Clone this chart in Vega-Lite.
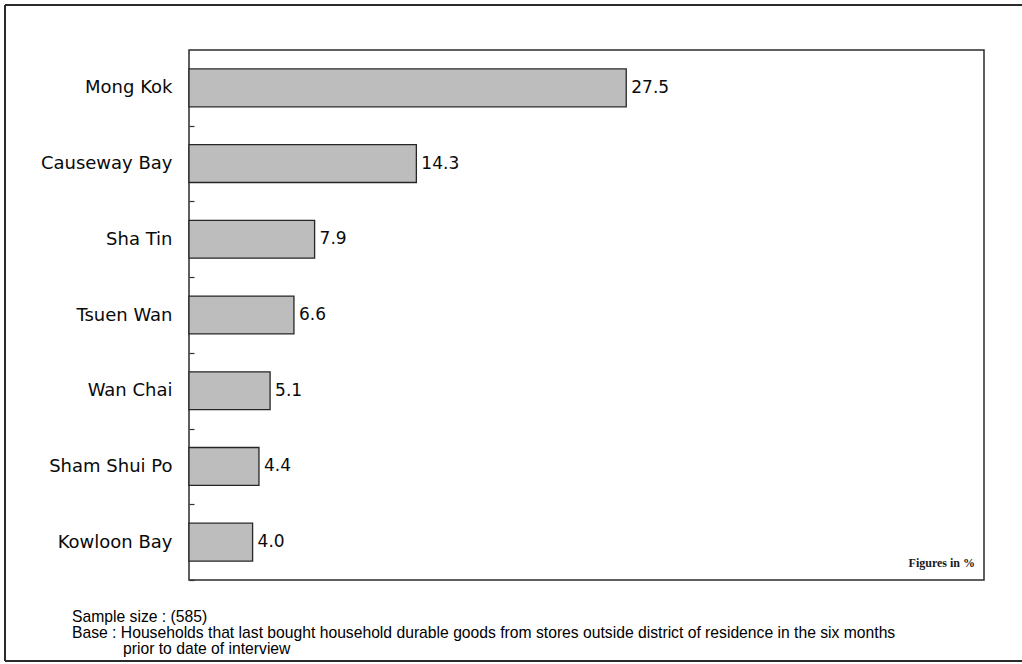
{
  "$schema": "https://vega.github.io/schema/vega-lite/v6.json",
  "width": 795,
  "height": 530,
  "autosize": {"type": "none"},
  "padding": {"left": 189, "top": 50, "right": 38, "bottom": 84},
  "background": "white",
  "config": {
    "view": {"stroke": "#2b2b2b", "strokeWidth": 1.5},
    "font": "DejaVu Sans"
  },
  "datasets": {
    "districts": [
      {"district": "Mong Kok", "pct": 27.5},
      {"district": "Causeway Bay", "pct": 14.3},
      {"district": "Sha Tin", "pct": 7.9},
      {"district": "Tsuen Wan", "pct": 6.6},
      {"district": "Wan Chai", "pct": 5.1},
      {"district": "Sham Shui Po", "pct": 4.4},
      {"district": "Kowloon Bay", "pct": 4.0}
    ],
    "single": [{"item": "note"}]
  },
  "data": {"name": "districts"},
  "encoding": {
    "y": {
      "field": "district",
      "type": "nominal",
      "sort": null,
      "scale": {"paddingInner": 0.5, "paddingOuter": 0.25},
      "axis": {
        "title": null,
        "domain": false,
        "grid": false,
        "tickOffset": 37.86,
        "labelOffset": -37.86,
        "tickSize": -5,
        "tickColor": "#333333",
        "tickWidth": 1.2,
        "labelFont": "DejaVu Sans",
        "labelFontSize": 18,
        "labelColor": "#0a0a0a",
        "labelPadding": 22
      }
    }
  },
  "layer": [
    {
      "mark": {"type": "bar", "fill": "#bdbdbd", "stroke": "#262626", "strokeWidth": 1.3},
      "encoding": {
        "x": {"field": "pct", "type": "quantitative", "scale": {"domain": [0, 50], "nice": false}, "axis": null}
      }
    },
    {
      "mark": {"type": "text", "align": "left", "baseline": "middle", "dx": 5, "font": "DejaVu Sans", "fontSize": 17, "color": "#0a0a0a"},
      "encoding": {
        "x": {"field": "pct", "type": "quantitative"},
        "text": {"field": "pct", "type": "quantitative", "format": ".1f"}
      }
    },
    {
      "data": {"name": "single"},
      "mark": {"type": "text", "align": "right", "baseline": "middle", "dx": -9, "font": "Liberation Serif", "fontSize": 12, "fontWeight": "bold", "color": "#1a1a1a", "text": "Figures in %"},
      "encoding": {
        "x": {"datum": 50, "type": "quantitative"},
        "y": {"datum": "Kowloon Bay", "bandPosition": 1.05}
      }
    },
    {
      "data": {"name": "single"},
      "mark": {
        "type": "text",
        "align": "left",
        "baseline": "alphabetic",
        "font": "Liberation Sans",
        "fontSize": 15.7,
        "lineHeight": 16,
        "color": "#000000",
        "text": [
          "Sample size : (585)",
          "Base : Households that last bought household durable goods from stores outside district of residence in the six months"
        ]
      },
      "encoding": {
        "x": {"datum": -7.358, "type": "quantitative"},
        "y": {"datum": "Kowloon Bay", "bandPosition": 2.609}
      }
    },
    {
      "data": {"name": "single"},
      "mark": {
        "type": "text",
        "align": "left",
        "baseline": "alphabetic",
        "dx": 51,
        "font": "Liberation Sans",
        "fontSize": 15.7,
        "color": "#000000",
        "text": "prior to date of interview"
      },
      "encoding": {
        "x": {"datum": -7.358, "type": "quantitative"},
        "y": {"datum": "Kowloon Bay", "bandPosition": 3.454}
      }
    },
    {
      "data": {"name": "single"},
      "mark": {"type": "rule", "stroke": "#2b2b2b", "strokeWidth": 2, "clip": false},
      "encoding": {
        "x": {"datum": -11.572, "type": "quantitative"},
        "x2": {"datum": 60},
        "y": {"datum": "Mong Kok", "bandPosition": -1.689}
      }
    },
    {
      "data": {"name": "single"},
      "mark": {"type": "rule", "stroke": "#2b2b2b", "strokeWidth": 2, "clip": false},
      "encoding": {
        "x": {"datum": -11.572, "type": "quantitative"},
        "x2": {"datum": 60},
        "y": {"datum": "Kowloon Bay", "bandPosition": 3.64}
      }
    },
    {
      "data": {"name": "single"},
      "mark": {"type": "rule", "stroke": "#2b2b2b", "strokeWidth": 2, "clip": false},
      "encoding": {
        "x": {"datum": -11.572, "type": "quantitative"},
        "y": {"datum": "Mong Kok", "bandPosition": -1.689},
        "y2": {"datum": "Kowloon Bay", "bandPosition": 3.64}
      }
    }
  ]
}
